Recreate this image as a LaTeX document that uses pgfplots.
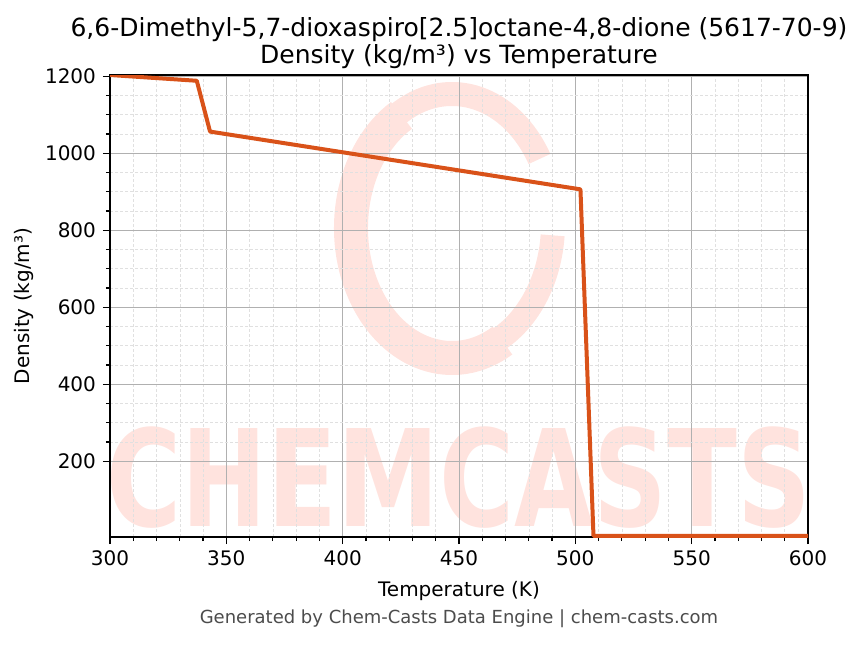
\documentclass[border=0pt]{standalone}
\usepackage{pgfplots}
\pgfplotsset{compat=1.18}
\usepackage{fontspec}
\setmainfont{DejaVu Sans}
\setsansfont{DejaVu Sans}
\definecolor{lineC}{HTML}{D95219}
\definecolor{wm}{HTML}{FFE3DE}
\definecolor{majg}{HTML}{B0B0B0}
\definecolor{ming}{HTML}{E0E0E0}
\begin{document}
\begin{tikzpicture}[x=1pt,y=1pt]
\useasboundingbox (0,0) rectangle (431.5,322);
% watermark
\begin{scope}
\draw[wm, line width=12pt] (226,210) ++(30:50.5 and 65) arc[start angle=30, end angle=355, x radius=50.5, y radius=65];
\draw[wm, line width=17pt] (226,208) ++(120:50.5 and 65) arc[start angle=120, end angle=300, x radius=50.5, y radius=65];
\node[wm, font=\fontsize{64}{64}\selectfont\bfseries, xscale=0.80, yscale=1.05] at (229.5,83) {CHEMCASTS};
\end{scope}
\begin{axis}[
  at={(55pt,53.5pt)}, anchor=south west,
  width=349pt, height=231pt, scale only axis,
  xmin=300, xmax=600, ymin=3, ymax=1203,
  xtick={300,350,...,600}, ytick={200,400,...,1200},
  minor x tick num=4, minor y tick num=3,
  grid=both,
  major grid style={majg, line width=0.4pt},
  minor grid style={ming, dash pattern=on 1.5pt off 1pt, line width=0.3pt},
  tick align=outside, tick pos=left,
  major tick length=3.5pt, minor tick length=2pt,
  every tick/.style={black, line width=0.6pt},
  axis line style={black, line width=0.6pt},
  tick label style={font=\fontsize{10}{12}\selectfont},
  /pgf/number format/assume math mode=true,
  /pgf/number format/1000 sep={},
  xlabel={Temperature (K)}, ylabel={Density (kg/m³)},
  label style={font=\fontsize{10}{12}\selectfont},
  xlabel style={yshift=-0.5pt},
  ylabel style={yshift=-1pt},
  title style={font=\fontsize{12.5}{13.5}\selectfont, align=center, yshift=-6.5pt},
  title={6,6-Dimethyl-5,7-dioxaspiro[2.5]octane-4,8-dione (5617-70-9)\\Density (kg/m³) vs Temperature},
]
\addplot[lineC, line width=2pt, line join=round] coordinates {
(300,1203) (337.3,1188) (343,1056) (502.2,906) (507.8,6) (600,6)
};
\end{axis}
\node[text=black!70, font=\fontsize{9}{11}\selectfont] at (229.5,12.5) {Generated by Chem-Casts Data Engine | chem-casts.com};
\end{tikzpicture}
\end{document}
